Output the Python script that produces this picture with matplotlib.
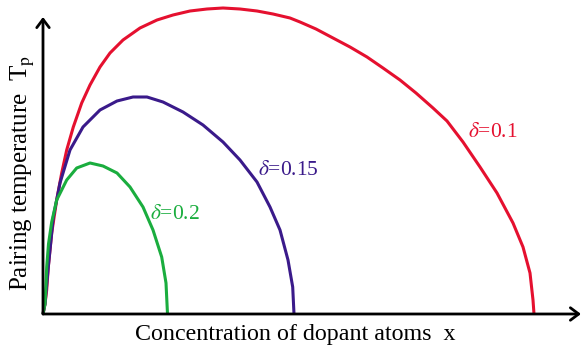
import matplotlib
matplotlib.use("Agg")
import matplotlib.pyplot as plt

plt.rcParams['font.family'] = ['Liberation Serif', 'DejaVu Serif']
plt.rcParams['mathtext.fontset'] = 'stix'

# Curve data (x: concentration, y: pairing temperature), arbitrary units
red_x = [0, 2, 3.7, 5.3, 8.7, 13.7, 18.7, 23.7, 30.3, 38.7, 47, 57, 67, 80, 97, 114, 130,
         147, 164, 180, 197, 214, 230, 247, 257, 273, 290, 307, 324, 340, 357, 373, 390,
         404, 420, 437, 454, 470, 480, 487, 490, 491]
red_y = [0, 10, 24, 47, 81, 114, 141, 164, 187, 211, 229, 247, 261, 274, 286, 294, 299,
         303, 305, 306, 305, 303, 300, 296, 292, 285, 276, 267, 257, 246, 234, 221, 206,
         193, 172, 147, 121, 91, 67, 41, 14, 0]

blue_x = [0, 2, 5.3, 10.3, 17, 27, 40, 57, 74, 90, 104, 120, 140, 160, 180, 197, 214, 227,
          237, 245, 249.7, 251]
blue_y = [0, 10, 47, 97, 131, 164, 187, 204, 213, 217, 217, 212, 202, 189, 172, 154, 132, 107,
          84, 54, 27, 0]

green_x = [0, 2, 3, 3.7, 5.5, 8.7, 13.7, 23.7, 33.7, 47, 60, 74, 87, 100, 110, 118.7, 123,
           124.5]
green_y = [0, 10, 30, 47, 70, 92, 114, 134, 146, 151, 148, 141, 127, 107, 84, 57, 31, 0]

labels = ["0.1", "0.15", "0.2"]
colors = ["#e5102f", "#3a1a8a", "#1aad3e"]

W, H = 581, 347
fig = plt.figure(figsize=(W / 100, H / 100), dpi=100)
ox, oy = 43, 314
xmax, ymax = 538, 297
ax = fig.add_axes([ox / W, (H - oy) / H, xmax / W, ymax / H])
ax.set_xlim(0, xmax)
ax.set_ylim(0, ymax)
ax.axis('off')

for xs, ys, c in zip([red_x, blue_x, green_x], [red_y, blue_y, green_y], colors):
    ax.plot(xs, ys, color=c, lw=2.2, solid_capstyle='butt', solid_joinstyle='round',
            clip_on=False)

# axes arrows
arrow = dict(arrowstyle='->, head_length=0.6, head_width=0.45', lw=2.0, color='black',
             shrinkA=0, shrinkB=0, mutation_scale=10)
ax.annotate('', xy=(xmax, 0), xytext=(0, 0), arrowprops=arrow, annotation_clip=False)
ax.annotate('', xy=(0, ymax), xytext=(0, 0), arrowprops=arrow, annotation_clip=False)

# curve labels
pos = [(425, 177), (215, 139), (107, 95)]
for (tx, ty), lab, c in zip(pos, labels, colors):
    ax.text(tx, ty, r'$\delta$=' + lab, color=c, fontsize=15.5, ha='left', va='baseline')

fig.text(295 / W, 1 - 340 / H, 'Concentration of dopant atoms  x', fontsize=17.3,
         ha='center', va='baseline')
fig.text(23 / W, 1 - 173 / H, r'Pairing temperature  T$_{\rm p}$', fontsize=18,
         rotation=90, ha='center', va='center')

fig.savefig('out.png', dpi=100, facecolor='white')
